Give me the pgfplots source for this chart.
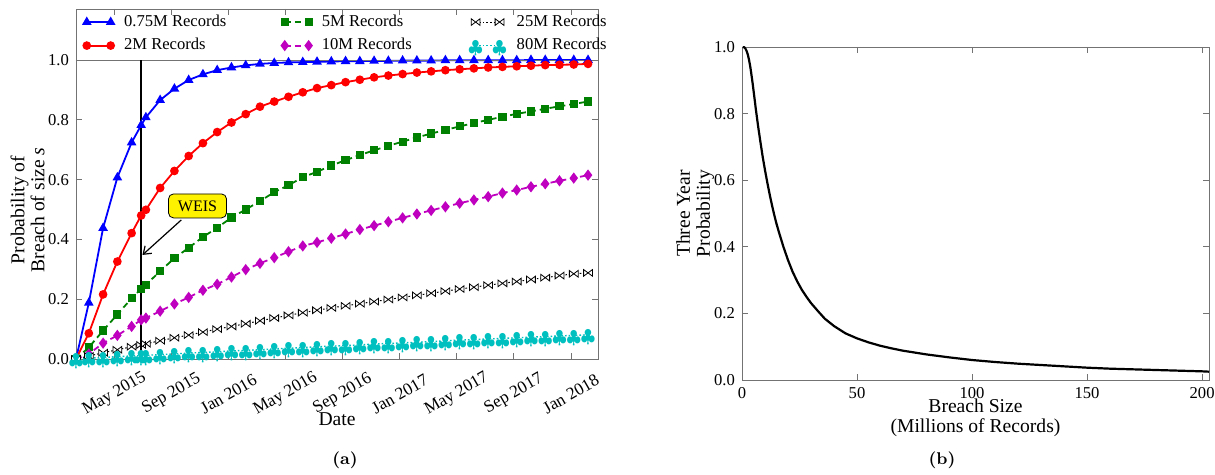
\documentclass[border=0pt]{standalone}
\usepackage{pgfplots}
\pgfplotsset{compat=1.18}
\usepackage{pgfplotstable}
\usepackage{fontspec}
\newfontfamily\tnr{Liberation Serif}
\usetikzlibrary{arrows.meta}

\definecolor{axgray}{gray}{0.45}
\definecolor{mgreen}{rgb}{0,0.5,0}
\definecolor{mmag}{rgb}{0.75,0,0.75}
\definecolor{mcyan}{rgb}{0,0.75,0.75}

% open bowtie marker (two triangles meeting at the centre)
\pgfdeclareplotmark{bowtie}{%
  \pgfpathmoveto{\pgfqpoint{-\pgfplotmarksize}{0.75\pgfplotmarksize}}%
  \pgfpathlineto{\pgfqpoint{-\pgfplotmarksize}{-0.75\pgfplotmarksize}}%
  \pgfpathlineto{\pgfqpoint{0pt}{0pt}}%
  \pgfpathclose
  \pgfpathmoveto{\pgfqpoint{\pgfplotmarksize}{0.75\pgfplotmarksize}}%
  \pgfpathlineto{\pgfqpoint{\pgfplotmarksize}{-0.75\pgfplotmarksize}}%
  \pgfpathlineto{\pgfqpoint{0pt}{0pt}}%
  \pgfpathclose
  \pgfusepathqfillstroke}
% club suit marker, centred on the point
\pgfdeclareplotmark{club}{%
  \pgftext[y=-1.3pt]{\textcolor{mcyan}{\fontsize{9.5}{9.5}\selectfont$\clubsuit$}}}

% months since 1 Jan 2015; a..f = 0.75M, 2M, 5M, 10M, 25M, 80M records
\pgfplotstableread{
x     a     b     c     d     e     f
1.3   0     0     0     0     0     0
2.2   0.188 0.086 0.039 0.017 0.010 0.003
3.2   0.438 0.216 0.095 0.053 0.021 0.005
4.2   0.607 0.326 0.149 0.079 0.031 0.008
5.2   0.724 0.421 0.203 0.109 0.041 0.010
5.87  0.782 0.480 0.235 0.131 0.047 0.011
6.2   0.808 0.499 0.248 0.137 0.051 0.012
7.2   0.866 0.572 0.294 0.160 0.061 0.015
8.2   0.904 0.629 0.337 0.184 0.071 0.017
9.2   0.933 0.679 0.372 0.206 0.080 0.020
10.2  0.952 0.722 0.408 0.230 0.090 0.022
11.2  0.966 0.759 0.439 0.250 0.100 0.024
12.2  0.975 0.791 0.473 0.274 0.109 0.027
13.2  0.982 0.819 0.500 0.299 0.118 0.029
14.2  0.987 0.844 0.528 0.320 0.128 0.031
15.2  0.990 0.861 0.558 0.339 0.137 0.034
16.2  0.992 0.877 0.581 0.359 0.146 0.036
17.2  0.993 0.892 0.608 0.378 0.155 0.038
18.2  0.994 0.906 0.626 0.390 0.163 0.041
19.2  0.995 0.916 0.647 0.404 0.171 0.043
20.2  0.996 0.926 0.665 0.418 0.178 0.045
21.2  0.996 0.934 0.682 0.433 0.185 0.047
22.2  0.997 0.942 0.698 0.446 0.192 0.050
23.2  0.997 0.948 0.713 0.459 0.199 0.052
24.2  0.998 0.953 0.727 0.472 0.206 0.054
25.2  0.998 0.958 0.741 0.485 0.213 0.056
26.2  0.998 0.962 0.754 0.497 0.220 0.058
27.2  0.999 0.966 0.766 0.509 0.227 0.061
28.2  0.999 0.969 0.778 0.521 0.234 0.063
29.2  0.999 0.972 0.789 0.532 0.240 0.065
30.2  0.999 0.975 0.800 0.543 0.247 0.067
31.2  0.999 0.977 0.810 0.555 0.253 0.069
32.2  0.999 0.979 0.820 0.565 0.259 0.071
33.2  1.000 0.981 0.828 0.576 0.266 0.073
34.2  1.000 0.983 0.837 0.586 0.272 0.075
35.2  1.000 0.984 0.845 0.596 0.279 0.077
36.2  1.000 0.985 0.853 0.605 0.285 0.079
37.2  1.000 0.987 0.861 0.615 0.288 0.081
}\breachtab

% breach size (millions of records) vs three year probability
\pgfplotstableread{
s    p
0.3  1.000
1    0.999
1.5  0.995
2    0.988
2.5  0.978
3    0.963
3.5  0.945
4    0.922
4.5  0.897
5    0.870
5.5  0.842
6    0.814
7    0.762
8    0.715
9    0.670
10   0.630
11   0.593
12   0.558
13   0.526
14   0.496
15   0.469
16   0.445
18   0.400
20   0.360
22   0.325
24   0.296
26   0.271
28   0.250
30   0.231
33   0.207
36   0.184
40   0.162
45   0.140
50   0.125
55   0.113
60   0.103
65   0.095
70   0.088
80   0.077
90   0.068
100  0.060
110  0.054
120  0.049
130  0.045
140  0.041
150  0.037
160  0.034
170  0.032
180  0.030
190  0.028
200  0.026
203  0.025
}\threeyear

\pgfplotsset{
  mpl/.style={
    scale only axis,
    axis line style={axgray},
    tick style={axgray, thin},
    tick align=inside,
    major tick length=3pt,
    tick label style={font=\tnr\fontsize{8.3}{9}\selectfont},
    /pgf/number format/assume math mode=true,
    label style={font=\tnr\fontsize{9.8}{10}\selectfont},
    yticklabel style={/pgf/number format/.cd, fixed, fixed zerofill, precision=1},
  },
  % an empty axis over panel (a) that only carries one column of the legend
  legcol/.style={
    scale only axis, hide axis,
    at={(38pt,-179.5pt)}, anchor=south west,
    width=261pt, height=175pt,
    xmin=0, xmax=1, ymin=0, ymax=1,
    legend style={draw=none, fill=none, inner sep=0pt,
      at={(axis description cs:#1,0.929)}, anchor=west,
      font=\tnr\fontsize{8.3}{9}\selectfont, row sep=2.5pt, column sep=4pt,
      nodes={inner sep=1pt}},
    legend cell align=left,
    legend image code/.code={\draw[##1] plot coordinates {(0cm,0cm) (0.42cm,0cm)};},
  },
  s075/.style={blue, line width=0.9pt, mark=triangle*, mark size=1.9pt},
  s2/.style={red, line width=0.9pt, mark=*, mark size=1.7pt},
  s5/.style={mgreen, line width=0.9pt, dash pattern=on 3pt off 2pt, mark=square*, mark size=1.6pt, mark options={solid}},
  s10/.style={mmag, line width=0.9pt, dash pattern=on 3pt off 2pt, mark=diamond*, mark size=2.1pt, mark options={solid}},
  s25/.style={black, line width=0.5pt, dash pattern=on 0.8pt off 1pt, mark=bowtie, mark size=2.2pt, mark options={solid, fill=white, line width=0.4pt}},
  s80/.style={mcyan, line width=0.7pt, dash pattern=on 0.8pt off 1pt, mark=club, mark options={solid}},
}

\begin{document}
\begin{tikzpicture}
\path[use as bounding box] (0,0) rectangle (607.5pt,-237.5pt);

% ---- (a) ----
\begin{axis}[mpl,
  at={(38pt,-179.5pt)}, anchor=south west,
  width=261pt, height=175pt,
  xmin=1.3, xmax=37.9, ymin=0, ymax=1.1706,
  xtick={4,8,...,36},
  xticklabels={May 2015,Sep 2015,Jan 2016,May 2016,Sep 2016,Jan 2017,May 2017,Sep 2017,Jan 2018},
  xticklabel style={rotate=30, anchor=center, font=\tnr\fontsize{8.6}{9}\selectfont},
  xticklabel shift=17.5pt,
  ytick={0,0.2,0.4,0.6,0.8,1.0},
  xlabel={Date},
  xlabel style={at={(axis description cs:0.5,-0.172)}, anchor=center},
  ylabel={Probability of\\Breach of size \textit{s}},
  ylabel style={align=center, at={(axis description cs:-0.093,0.426)}, anchor=center},
]
\addplot[s075] table[x=x,y=a] {\breachtab};
\addplot[s2] table[x=x,y=b] {\breachtab};
\addplot[s5] table[x=x,y=c] {\breachtab};
\addplot[s10] table[x=x,y=d] {\breachtab};
\addplot[s25] table[x=x,y=e] {\breachtab};
\addplot[s80] table[x=x,y=f] {\breachtab};
\draw[axgray, line width=0.5pt] (axis cs:1.3,1) -- (axis cs:37.9,1);
\draw[black, line width=1pt] (axis cs:5.87,0) -- (axis cs:5.87,1);
\node[draw=black, fill=yellow, rounded corners=2.5pt, font=\tnr\fontsize{8}{9}\selectfont,
  minimum width=29pt, minimum height=12pt, inner sep=1pt] at (axis cs:9.82,0.512) {WEIS};
\draw[-{Straight Barb[length=3.5pt,width=5pt]}, line width=0.6pt] (axis cs:8.68,0.465) -- (axis cs:5.96,0.348);
\end{axis}

% legend of (a), one column at a time
\begin{axis}[legcol=0.0134]
\addlegendimage{s075}\addlegendentry{0.75M Records}
\addlegendimage{s2}\addlegendentry{2M Records}
\end{axis}
\begin{axis}[legcol=0.393]
\addlegendimage{s5}\addlegendentry{5M Records}
\addlegendimage{s10}\addlegendentry{10M Records}
\end{axis}
\begin{axis}[legcol=0.751]
\addlegendimage{s25}\addlegendentry{25M Records}
\addlegendimage{s80}\addlegendentry{80M Records}
\end{axis}

% ---- (b) ----
\begin{axis}[mpl,
  at={(371pt,-190pt)}, anchor=south west,
  width=233.5pt, height=166.5pt,
  xmin=0, xmax=203, ymin=0, ymax=1,
  xtick={0,50,100,150,200},
  ytick={0,0.2,0.4,0.6,0.8,1.0},
  xlabel={Breach Size\\(Millions of Records)},
  xlabel style={align=center, at={(axis description cs:0.5,-0.114)}, anchor=center},
  ylabel={Three Year\\Probability},
  ylabel style={align=center, at={(axis description cs:-0.1,0.5)}, anchor=center},
]
\addplot[black, line width=1.1pt, no marks] table[x=s,y=p] {\threeyear};
\end{axis}

\node[font=\bfseries\fontsize{8.5}{10}\selectfont] at (172.5pt,-230pt) {(a)};
\node[font=\bfseries\fontsize{8.5}{10}\selectfont] at (471pt,-230pt) {(b)};
\end{tikzpicture}
\end{document}
